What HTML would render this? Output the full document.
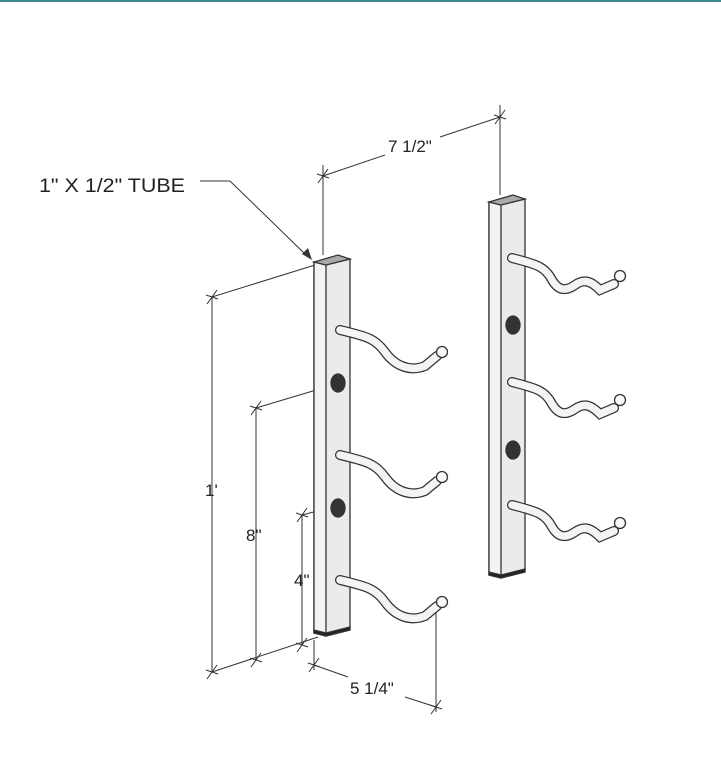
<!DOCTYPE html>
<html><head><meta charset="utf-8"><style>
html,body{margin:0;padding:0;background:#fff}
svg{display:block}
text{font-family:"Liberation Sans",sans-serif;fill:#222}
</style></head><body>
<svg width="721" height="776" viewBox="0 0 721 776" xmlns="http://www.w3.org/2000/svg">
<rect x="0" y="0" width="721" height="2" fill="#3a8a8c"/>
<defs>
<g id="hl">
<path d="M0,0 C25,6 35,8 45,22 C55,36 70,42 85,36 L97,26" fill="none" stroke="#333" stroke-width="10" stroke-linecap="round"/>
<path d="M0,0 C25,6 35,8 45,22 C55,36 70,42 85,36 L97,26" fill="none" stroke="#f4f4f4" stroke-width="7.5" stroke-linecap="round"/>
<circle cx="102" cy="22" r="5.5" fill="#fafafa" stroke="#333" stroke-width="1.3"/>
</g>
<g id="hr">
<path d="M0,0 C23,6 33,8 40,22 C46,32 53,34 63,27 C73,20 80,24 88,32 L102,26" fill="none" stroke="#333" stroke-width="10" stroke-linecap="round"/>
<path d="M0,0 C23,6 33,8 40,22 C46,32 53,34 63,27 C73,20 80,24 88,32 L102,26" fill="none" stroke="#f4f4f4" stroke-width="7.5" stroke-linecap="round"/>
<circle cx="108" cy="18" r="5.5" fill="#fafafa" stroke="#333" stroke-width="1.3"/>
</g>
</defs>
<g stroke="#333" stroke-width="1" fill="none">
<line x1="323" y1="165" x2="323" y2="255"/>
<line x1="500" y1="105" x2="500" y2="195"/>
<line x1="323" y1="176" x2="385" y2="155"/>
<line x1="440" y1="137" x2="500" y2="117"/>
<path d="M318,183 L328,169 M317,174 L329,178 M495,124 L505,110 M494,115 L506,119"/>
<line x1="212" y1="297" x2="315" y2="265"/>
<line x1="212" y1="297" x2="212" y2="672"/>
<line x1="212" y1="672" x2="318" y2="637"/>
<line x1="256" y1="408" x2="333" y2="385"/>
<line x1="256" y1="408" x2="256" y2="660"/>
<line x1="302" y1="515" x2="333" y2="507"/>
<line x1="302" y1="515" x2="302" y2="645"/>
<path d="M207,304 L217,290 M206,295 L218,299 M207,679 L217,665 M206,670 L218,674 M251,415 L261,401 M250,406 L262,410 M251,667 L261,653 M250,658 L262,662 M297,522 L307,508 M296,513 L308,517 M297,652 L307,638 M296,643 L308,647"/>
<line x1="314" y1="640" x2="314" y2="670"/>
<line x1="436" y1="605" x2="436" y2="712"/>
<line x1="314" y1="665" x2="348" y2="677"/>
<line x1="405" y1="697" x2="436" y2="707"/>
<path d="M309,672 L319,658 M308,663 L320,667 M431,714 L441,700 M430,705 L442,709"/>
<polyline points="200,181 230,181 305,254"/>
</g>
<polygon points="312,260 302,254 308,248" fill="#333"/>
<text x="39" y="192" font-size="19" textLength="146" lengthAdjust="spacingAndGlyphs">1" X 1/2" TUBE</text>
<text x="388" y="152" font-size="17">7 1/2"</text>
<text x="205" y="496" font-size="17">1'</text>
<text x="246" y="541" font-size="17">8"</text>
<text x="294" y="586" font-size="17">4"</text>
<text x="350" y="694" font-size="17">5 1/4"</text>
<g stroke="#333" stroke-width="1.3">
<polygon points="314,262 326,265 350,259 350,630 326,636 314,633" fill="#ebebeb"/>
<polygon points="314,262 326,265 326,636 314,633" fill="#f3f3f3"/>
<polygon points="314,262 338,255 350,259 326,265" fill="#aaa"/>
<polygon points="314,630 326,633 350,627 350,630 326,636 314,633" fill="#222"/>
<ellipse cx="338" cy="383" rx="7" ry="9" fill="#333"/>
<ellipse cx="338" cy="508" rx="7" ry="9" fill="#333"/>
<polygon points="489,202 501,205 525,199 525,572 501,578 489,575" fill="#ebebeb"/>
<polygon points="489,202 501,205 501,578 489,575" fill="#f3f3f3"/>
<polygon points="489,202 513,195 525,199 501,205" fill="#aaa"/>
<polygon points="489,572 501,575 525,569 525,572 501,578 489,575" fill="#222"/>
<ellipse cx="513" cy="325" rx="7" ry="9" fill="#333"/>
<ellipse cx="513" cy="450" rx="7" ry="9" fill="#333"/>
</g>
<use href="#hl" x="340" y="330"/>
<use href="#hl" x="340" y="455"/>
<use href="#hl" x="340" y="580"/>
<use href="#hr" x="512" y="258"/>
<use href="#hr" x="512" y="382"/>
<use href="#hr" x="512" y="505"/>
</svg>
</body></html>
